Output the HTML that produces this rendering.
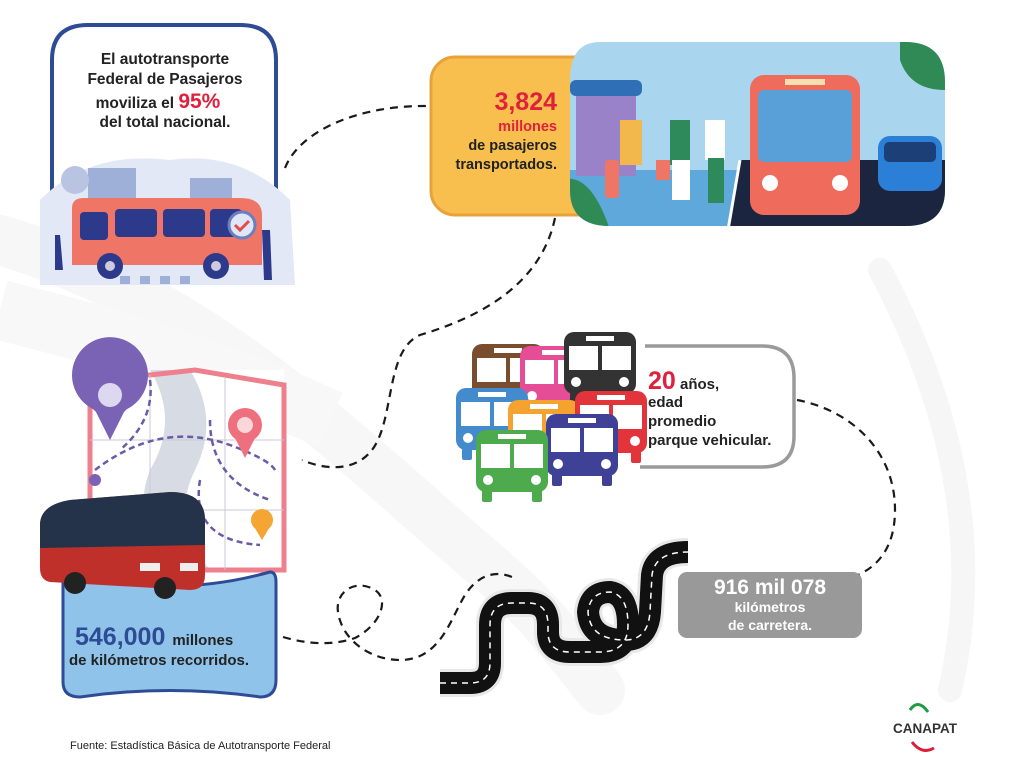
<!DOCTYPE html>
<html><head><meta charset="utf-8"><style>
html,body{margin:0;padding:0;background:#fff}
svg{display:block}
text{font-family:"Liberation Sans",sans-serif}
</style></head><body>
<svg width="1024" height="776" viewBox="0 0 1024 776" xmlns="http://www.w3.org/2000/svg">
<defs>
<clipPath id="pc"><path d="M600,42 H905 Q945,42 945,82 V190 Q945,226 905,226 H610 Q570,226 570,190 V80 Q570,42 600,42Z"/></clipPath>
<g id="bus">
<rect x="0" y="0" width="72" height="62" rx="10"/>
<rect x="22" y="4" width="28" height="5" fill="#fff"/>
<rect x="5" y="14" width="29" height="24" fill="#fff"/>
<rect x="38" y="14" width="29" height="24" fill="#fff"/>
<circle cx="12" cy="50" r="5" fill="#fff"/><circle cx="60" cy="50" r="5" fill="#fff"/>
<rect x="6" y="60" width="10" height="12" rx="2"/><rect x="56" y="60" width="10" height="12" rx="2"/>
</g>
</defs>
<!-- background swooshes -->
<path d="M0,240 C200,300 330,430 480,560 C540,610 560,640 600,690" stroke="#f7f7f8" stroke-width="50" fill="none" stroke-linecap="round"/>
<path d="M880,270 C960,420 980,560 950,690" stroke="#f6f6f7" stroke-width="24" fill="none" stroke-linecap="round"/>
<path d="M0,310 C80,330 200,360 330,420" stroke="#f8f8f9" stroke-width="60" fill="none"/>

<!-- dashed connectors -->
<g fill="none" stroke="#1a1a1a" stroke-width="2.2" stroke-dasharray="8,6">
<path d="M285,168 C300,130 360,105 428,106"/>
<path d="M555,218 C540,290 470,320 420,335 C385,350 395,420 372,450 C355,472 325,470 302,460"/>
<path d="M283,637 C310,645 335,645 355,638 C380,625 390,600 375,590 C355,578 335,592 338,612 C342,640 370,660 400,660 C440,660 450,620 465,595 C478,575 495,570 512,577"/>
<path d="M797,400 C850,410 895,450 895,510 C895,545 880,565 858,575"/>
</g>

<!-- Box 1 -->
<path d="M52,210 V60 Q52,25 88,25 H240 Q276,25 276,60 V210" fill="#fff" stroke="#2e4c95" stroke-width="4"/>
<path d="M40,200 Q90,150 170,160 Q240,150 290,200 L295,285 L40,285Z" fill="#e2e8f5"/>
<rect x="88" y="168" width="48" height="40" fill="#9fb0d8"/>
<rect x="190" y="178" width="42" height="32" fill="#9fb0d8"/>
<circle cx="75" cy="180" r="14" fill="#b8c4e2"/>
<path d="M72,208 Q72,198 84,198 H240 Q262,198 262,215 V265 H72Z" fill="#ef7566"/>
<rect x="115" y="209" width="42" height="28" rx="4" fill="#2d3a8c"/>
<rect x="163" y="209" width="42" height="28" rx="4" fill="#2d3a8c"/>
<rect x="210" y="209" width="32" height="28" rx="4" fill="#2d3a8c"/>
<rect x="80" y="212" width="28" height="28" rx="4" fill="#2d3a8c"/>
<circle cx="110" cy="266" r="13" fill="#2d3a8c"/><circle cx="110" cy="266" r="5" fill="#ccd"/>
<circle cx="216" cy="266" r="13" fill="#2d3a8c"/><circle cx="216" cy="266" r="5" fill="#ccd"/>
<circle cx="242" cy="225" r="13" fill="#dfe6f6" stroke="#6b7fc0" stroke-width="3"/>
<path d="M235,225 l5,5 l9,-9" stroke="#e64b4b" stroke-width="3" fill="none"/>
<path d="M55,235 l5,0 l3,35 l-8,0Z" fill="#2d3a8c"/>
<path d="M262,230 l8,0 l2,50 l-8,0Z" fill="#2d3a8c"/>
<g fill="#9fb0d8"><rect x="120" y="276" width="10" height="8"/><rect x="140" y="276" width="10" height="8"/><rect x="160" y="276" width="10" height="8"/><rect x="180" y="276" width="10" height="8"/></g>
<g font-size="15.5" fill="#222" text-anchor="middle" font-weight="bold">
<text x="165" y="64">El autotransporte</text>
<text x="165" y="84">Federal de Pasajeros</text>
<text x="158" y="108">moviliza el <tspan fill="#e0203c" font-size="21">95%</tspan></text>
<text x="165" y="127">del total nacional.</text>
</g>

<!-- yellow box -->
<rect x="431" y="57" width="170" height="158" rx="24" fill="#f8bf4e" stroke="#e8a23a" stroke-width="3"/>
<g text-anchor="end" font-weight="bold">
<text x="557" y="110" font-size="25" fill="#e0203c">3,824</text>
<text x="557" y="131" font-size="14.5" fill="#e0203c">millones</text>
<text x="557" y="150" font-size="14.5" fill="#222">de pasajeros</text>
<text x="557" y="169" font-size="14.5" fill="#222">transportados.</text>
</g>
<!-- photo panel -->
<g clip-path="url(#pc)">
<rect x="560" y="40" width="400" height="190" fill="#a9d6ee"/>
<rect x="560" y="170" width="400" height="60" fill="#5fa8dc"/>
<path d="M740,160 L945,160 L945,230 L728,230Z" fill="#1c2540"/>
<path d="M728,230 L740,160" stroke="#fff" stroke-width="3"/>
<rect x="570" y="80" width="72" height="16" rx="6" fill="#2f6fb6"/>
<rect x="576" y="96" width="60" height="80" fill="#9a82c8"/>
<path d="M560,180 Q590,170 610,230 L560,230Z" fill="#2f8a55"/>
<path d="M900,40 L945,40 L945,90 Q910,90 900,60Z" fill="#2f8a55"/>
<rect x="620" y="120" width="22" height="45" fill="#f2b84b"/>
<rect x="605" y="160" width="14" height="38" rx="3" fill="#ef7566"/>
<rect x="670" y="120" width="20" height="45" fill="#2e8a5a"/>
<rect x="672" y="160" width="18" height="40" fill="#fff"/>
<rect x="705" y="120" width="20" height="40" fill="#fff"/>
<rect x="708" y="158" width="16" height="45" fill="#2e8a5a"/>
<rect x="656" y="160" width="14" height="20" fill="#ef7566"/>
<rect x="750" y="75" width="110" height="140" rx="14" fill="#ef6b5c"/>
<rect x="758" y="90" width="94" height="72" rx="6" fill="#5aa0d8"/>
<rect x="785" y="79" width="40" height="6" fill="#f7e0b0"/>
<circle cx="770" cy="183" r="8" fill="#fff"/><circle cx="840" cy="183" r="8" fill="#fff"/>
<rect x="878" y="136" width="64" height="55" rx="12" fill="#2c7fd6"/>
<rect x="884" y="142" width="52" height="20" rx="5" fill="#1d3f78"/>
</g>

<!-- map -->
<rect x="90" y="370" width="194" height="200" fill="#fff"/>
<path d="M150,370 Q180,420 150,470 Q130,520 170,570 L210,570 Q170,520 195,470 Q220,420 190,370Z" fill="#d7dbe4"/>
<path d="M90,370 L150,375 L195,370 L284,385 L284,570 L90,570Z" fill="none" stroke="#ee7f8c" stroke-width="5"/>
<g stroke="#c8cad6" stroke-width="1"><path d="M90,440 H284 M90,510 H284 M150,375 V570 M225,378 V570"/></g>
<g fill="none" stroke="#6a5aa8" stroke-width="2.5" stroke-dasharray="6,4">
<path d="M95,470 Q160,420 230,445 Q270,460 275,470"/>
<path d="M210,420 Q210,480 270,500"/>
<path d="M150,380 Q155,420 120,450"/>
<path d="M200,480 Q190,540 260,545"/>
</g>
<path d="M95,410 A38,38 0 1 1 125,410 L110,440Z" fill="#7a63b5"/>
<circle cx="110" cy="395" r="22" fill="#7a63b5"/><circle cx="110" cy="395" r="12" fill="#ddd8f0"/>
<circle cx="95" cy="480" r="6" fill="#7a63b5"/>
<circle cx="245" cy="425" r="17" fill="#ee6f7d"/><path d="M232,432 L245,458 L258,432Z" fill="#ee6f7d"/><circle cx="245" cy="425" r="8" fill="#fbd7da"/>
<circle cx="262" cy="520" r="11" fill="#f4a534"/><path d="M253,525 L262,540 L271,525Z" fill="#f4a534"/>
<!-- blue box -->
<path d="M63,580 Q63,570 75,572 Q170,600 270,572 Q276,572 276,582 L276,680 Q276,697 260,697 Q170,684 80,697 Q63,697 63,682Z" fill="#8fc3ea" stroke="#2e4c95" stroke-width="3"/>
<!-- red coach -->
<path d="M40,525 Q40,505 70,500 L170,492 Q205,492 205,520 L205,575 Q205,590 190,590 L50,582 Q40,580 40,568Z" fill="#c0302a"/>
<path d="M40,525 Q40,505 70,500 L170,492 Q205,492 205,520 L205,545 L40,548Z" fill="#243349"/>
<rect x="140" y="563" width="20" height="8" fill="#eee"/><rect x="180" y="563" width="18" height="8" fill="#eee"/>
<circle cx="75" cy="583" r="11" fill="#222"/><circle cx="165" cy="588" r="11" fill="#222"/>
<g font-weight="bold" fill="#222">
<text x="75" y="645" font-size="25" fill="#2e4c95">546,000 <tspan font-size="15" fill="#222">millones</tspan></text>
<text x="69" y="665" font-size="15">de kilómetros recorridos.</text>
</g>

<!-- bus icons -->
<g opacity="0.9">
<use href="#bus" x="472" y="344" fill="#6b3a18"/>
<use href="#bus" x="520" y="346" fill="#e33a8c"/>
<use href="#bus" x="564" y="332" fill="#1e1e1e"/>
<use href="#bus" x="456" y="388" fill="#2f7fc7"/>
<use href="#bus" x="508" y="400" fill="#f39a1a"/>
<use href="#bus" x="575" y="391" fill="#e01f26"/>
<use href="#bus" x="546" y="414" fill="#2b2d8c"/>
<use href="#bus" x="476" y="430" fill="#3aa33a"/>
</g>
<path d="M645,346 H762 Q794,346 794,378 V436 Q794,467 762,467 H640" fill="none" stroke="#9a9a9a" stroke-width="3.5"/>
<g font-weight="bold" fill="#222" font-size="15">
<text x="648" y="389"><tspan font-size="25" fill="#e0203c">20</tspan> años,</text>
<text x="648" y="407">edad</text>
<text x="648" y="426">promedio</text>
<text x="648" y="445">parque vehicular.</text>
</g>

<!-- road -->
<g fill="none" stroke-linecap="butt">
<g stroke="#e8e8e8" stroke-width="28">
<path d="M440,683 H470 Q490,683 490,663 V625 Q490,603 512,603 H528 Q548,603 548,625 V632 Q548,652 570,652 H600 Q628,652 628,625 Q628,595 610,592 Q590,592 588,612 Q590,640 625,640 Q648,640 650,612 L652,575 Q655,552 688,552"/>
</g>
<g stroke="#111" stroke-width="22">
<path d="M440,683 H470 Q490,683 490,663 V625 Q490,603 512,603 H528 Q548,603 548,625 V632 Q548,652 570,652 H600 Q628,652 628,625 Q628,595 610,592 Q590,592 588,612 Q590,640 625,640 Q648,640 650,612 L652,575 Q655,552 688,552"/>
</g>
<g stroke="#fff" stroke-width="1.5" stroke-dasharray="6,5">
<path d="M440,683 H470 Q490,683 490,663 V625 Q490,603 512,603 H528 Q548,603 548,625 V632 Q548,652 570,652 H600 Q628,652 628,625 Q628,595 610,592 Q590,592 588,612 Q590,640 625,640 Q648,640 650,612 L652,575 Q655,552 688,552"/>
</g>
</g>
<rect x="678" y="572" width="184" height="66" rx="9" fill="#999"/>
<g text-anchor="middle" font-weight="bold" fill="#fff">
<text x="770" y="594" font-size="21">916 mil 078</text>
<text x="770" y="612" font-size="14">kilómetros</text>
<text x="770" y="630" font-size="14">de carretera.</text>
</g>

<!-- footer -->
<text x="70" y="749" font-size="11" fill="#222">Fuente: Estadística Básica de Autotransporte Federal</text>
<path d="M910,710 Q918,698 928,712" fill="none" stroke="#1f9a45" stroke-width="3"/>
<text x="925" y="733" font-size="13.5" font-weight="bold" fill="#333" text-anchor="middle">CANAPAT</text>
<path d="M912,742 Q922,755 934,748" fill="none" stroke="#d81f3c" stroke-width="3"/>
</svg>
</body></html>
